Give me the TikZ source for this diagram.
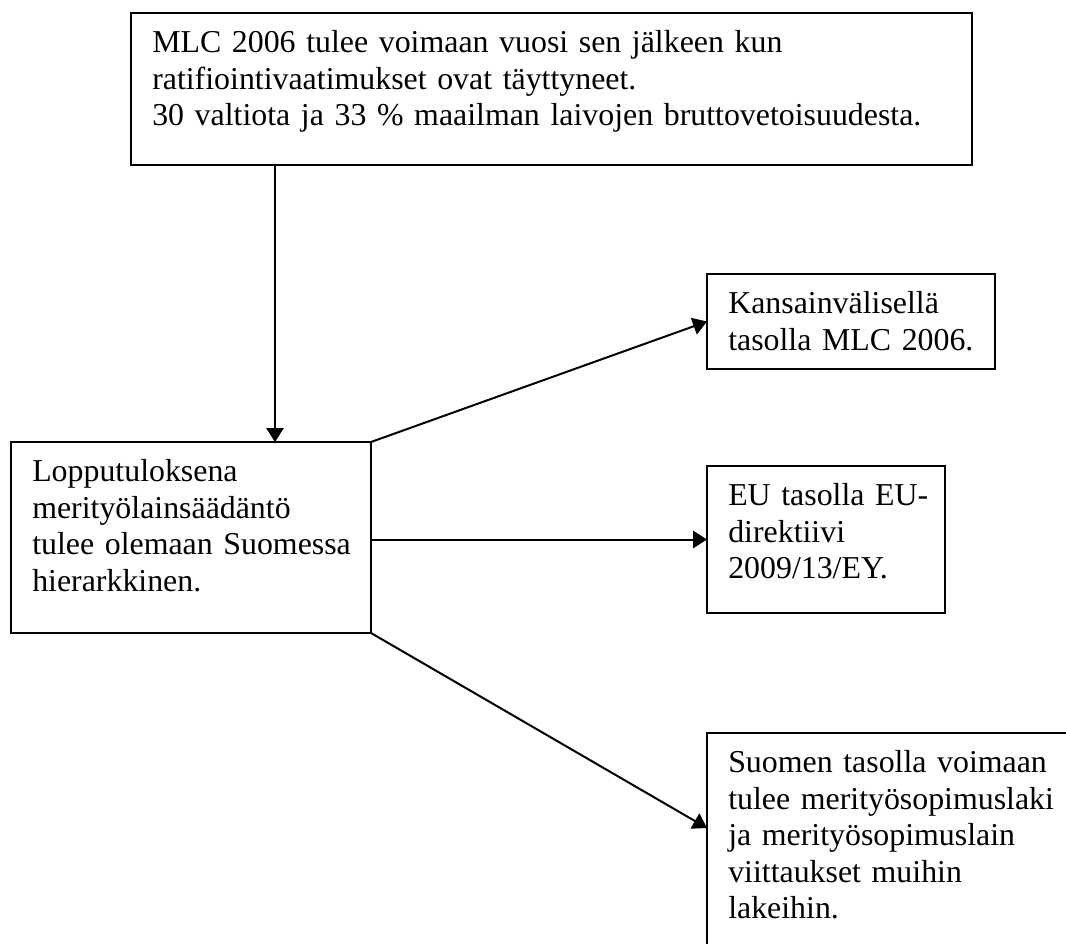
\documentclass[tikz,border=0pt]{standalone}
\usepackage{fontspec}
\setmainfont{Liberation Serif}
\usetikzlibrary{arrows.meta,calc}
\begin{document}
\begin{tikzpicture}[x=0.75pt,y=-0.75pt,
  frame/.style={draw, line width=1.5pt, anchor=north west, inner sep=0pt, outer sep=0pt},
  txt/.style={anchor=base west, align=left, inner sep=0pt,
    font=\fontsize{23.9pt}{27.4pt}\selectfont},
  arr/.style={line width=1.5pt, -{Triangle[length=10.5pt,width=13pt]}}]
\useasboundingbox (0,0) rectangle (1066,944);
\clip (0,0) rectangle (1066,944);

% frames
\node[frame, minimum width=630.75pt, minimum height=114pt] (tb) at (131,13) {};
\node[frame, minimum width=270pt, minimum height=143.25pt] (lb) at (11,442) {};
\node[frame, minimum width=216pt, minimum height=71.25pt] (kb) at (707,274) {};
\node[frame, minimum width=178.5pt, minimum height=110.25pt] (eb) at (707,466) {};
\node[frame, minimum width=300pt, minimum height=225pt] (sb) at (707,733) {};

% texts
\node[txt, text width=600pt] (tbt) at ($(tb.north west)+(21,39.5)$)
  {MLC 2006 tulee voimaan vuosi sen jälkeen kun\\ratifiointivaatimukset ovat täyttyneet.\\30 valtiota ja 33 \% maailman laivojen bruttovetoisuudesta.};
\node[txt, text width=255pt] (lbt) at ($(lb.north west)+(21,39.5)$)
  {Lopputuloksena\\merityölainsäädäntö\\tulee olemaan Suomessa\\hierarkkinen.};
\node[txt, text width=195pt] (kbt) at ($(kb.north west)+(21,39.5)$)
  {Kansainvälisellä\\tasolla MLC 2006.};
\node[txt, text width=172pt] (ebt) at ($(eb.north west)+(21,39.5)$)
  {EU tasolla EU-\\direktiivi\\2009/13/EY.};
\node[txt, text width=270pt] (sbt) at ($(sb.north west)+(21,39.5)$)
  {Suomen tasolla voimaan\\tulee merityösopimuslaki\\ja merityösopimuslain\\viittaukset muihin\\lakeihin.};

% connectors
\coordinate (sbin) at ($(sb.north west)+(0,95)$);
\draw[arr] ($(tb.south west)+(144,0)$) -- ($(lb.north west)+(264,0)$);
\draw[arr] (lb.north east) -- (kb.west);
\draw[arr] (lb.east |- eb.west) -- (eb.west);
\draw[arr] (lb.south east) -- (sbin);
\end{tikzpicture}
\end{document}
